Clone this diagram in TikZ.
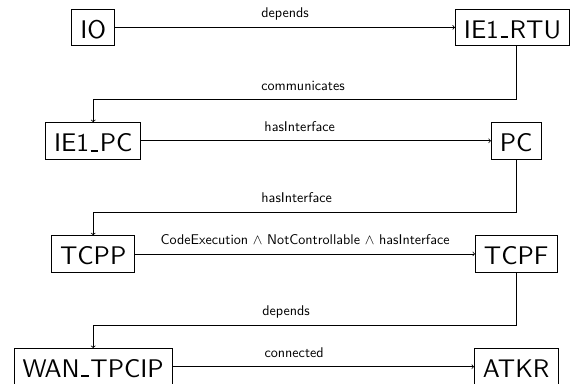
\documentclass[tikz,border=0pt]{standalone}
\usepackage{fontspec}
% the 10pt design of Latin Modern Sans, scaled up for every text
\newfontfamily\diagsans{lmsans10-regular}[Extension=.otf]
% underscore drawn as a short rule sitting on the baseline
\newcommand\usc{\kern.06em\vbox{\hrule width .3em height .08em}\kern.06em}
\begin{document}
\begin{tikzpicture}[x=1pt,y=-1pt,
  box/.style={draw, line width=0.8pt, font=\diagsans\fontsize{25.5}{30}\selectfont,
    inner xsep=8.5pt, inner ysep=3pt, text height=25.9pt, text depth=4.4pt},
  lbl/.style={font=\diagsans\fontsize{14.1}{16}\selectfont, anchor=base,
    yshift=9.5pt, inner sep=0pt},
  link/.style={->, line width=0.8pt}]
\useasboundingbox (0,0) rectangle (578,383);

% entities
\node[box] (io)   at (93.2,27.4)  {IO};
\node[box] (rtu)  at (512.5,27.4) {IE1\usc RTU};
\node[box] (iepc) at (93.2,140.8) {IE1\usc PC};
\node[box] (pc)   at (516.2,140.8) {PC};
\node[box] (tcpp) at (93.2,253.9) {TCPP};
\node[box] (tcpf) at (516.2,253.9) {TCPF};
\node[box] (wan)  at (93.2,366.7) {WAN\usc TPCIP};
\node[box] (atkr) at (516.2,366.7) {ATKR};

% bend points of the return connectors
\coordinate (k1r) at (516.2,99.5);  \coordinate (k1l) at (93.2,99.5);
\coordinate (k2r) at (516.2,212.3); \coordinate (k2l) at (93.2,212.3);
\coordinate (k3r) at (516.2,325);   \coordinate (k3l) at (93.2,325);

% relations
\draw[link] (io) -- node[lbl,pos=0.5]{depends} (rtu);
\draw[link] (rtu.south -| k1r) -- (k1r) -- node[lbl,pos=0.504]{communicates} (k1l) -- (iepc.north);
\draw[link] (iepc) -- node[lbl,pos=0.453]{hasInterface} (pc);
\draw[link] (pc.south) -- (k2r) -- node[lbl,pos=0.519]{hasInterface} (k2l) -- (tcpp.north);
\draw[link] (tcpp) -- node[lbl,pos=0.5]{CodeExecution $\wedge$ NotControllable $\wedge$ hasInterface} (tcpf);
\draw[link] (tcpf.south) -- (k3r) -- node[lbl,pos=0.544]{depends} (k3l) -- (wan.north);
\draw[link] (wan) -- node[lbl,pos=0.403]{connected} (atkr);
\end{tikzpicture}
\end{document}
